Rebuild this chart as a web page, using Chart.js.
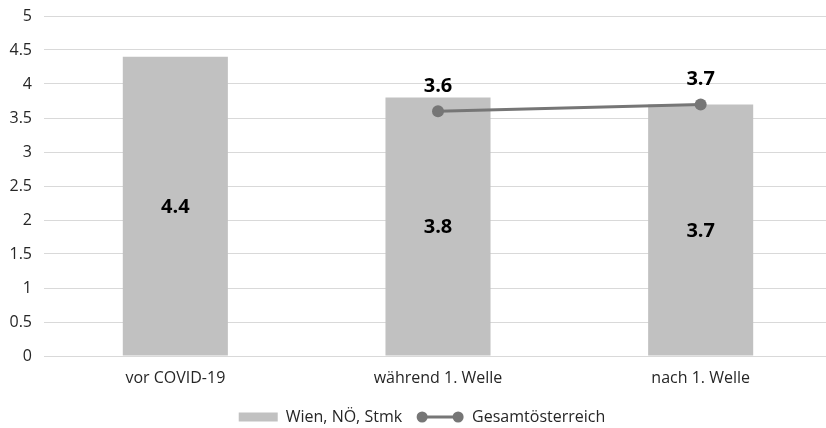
<!DOCTYPE html>
<html><head><meta charset="utf-8">
<script src="https://cdn.jsdelivr.net/npm/chart.js@4"></script>
<style>html,body{margin:0;padding:0;background:#fff;overflow:hidden}#wrap{width:826px;height:428px;overflow:hidden;position:relative}canvas{display:block}</style>
</head><body><div id="wrap"><canvas id="c" width="838" height="428"></canvas></div>
<script>
const categories = ['vor COVID-19', 'während 1. Welle', 'nach 1. Welle'];
const regionValues = [4.4, 3.8, 3.7];
const austriaValues = [null, 3.6, 3.7];
const seriesNames = ['Wien, NÖ, Stmk', 'Gesamtösterreich'];
const yTicks = [0, 0.5, 1, 1.5, 2, 2.5, 3, 3.5, 4, 4.5, 5];

const FONT = "'Open Sans', 'Liberation Sans', sans-serif";
const BAR = '#c1c1c1';
const LINE = '#767676';
const TXT = '#262626';
const VISIBLE_W = 826;

const labelsPlugin = {
  id: 'labels',
  afterDatasetsDraw(chart) {
    const ctx = chart.ctx;
    ctx.save();
    ctx.font = "bold 20px " + FONT;
    ctx.fillStyle = '#000';
    ctx.textAlign = 'center';
    ctx.textBaseline = 'middle';
    const bm = chart.getDatasetMeta(1);
    bm.data.forEach((el, i) => {
      const v = regionValues[i];
      ctx.fillText(v.toFixed(1), el.x, (el.y + el.base) / 2 + 1);
    });
    const lm = chart.getDatasetMeta(0);
    lm.data.forEach((el, i) => {
      const v = austriaValues[i];
      if (v == null) return;
      ctx.fillText(v.toFixed(1), el.x, el.y - 25);
    });
    ctx.restore();
  }
};

const legendPlugin = {
  id: 'customLegend',
  afterDraw(chart) {
    const ctx = chart.ctx;
    ctx.save();
    ctx.font = "16px " + FONT;
    ctx.textBaseline = 'middle';
    const y = 417;
    const boxW = 39, gap = 8, iconW = 48, between = 14;
    const w1 = ctx.measureText(seriesNames[0]).width;
    const w2 = ctx.measureText(seriesNames[1]).width;
    const total = boxW + gap + w1 + between + iconW + gap + w2;
    let x = (VISIBLE_W - total) / 2 + 9;
    ctx.fillStyle = BAR;
    ctx.fillRect(x, y - 4.5, boxW, 9);
    x += boxW + gap;
    ctx.fillStyle = TXT;
    ctx.fillText(seriesNames[0], x, y);
    x += w1 + between;
    ctx.strokeStyle = LINE; ctx.lineWidth = 3;
    ctx.beginPath(); ctx.moveTo(x + 6, y); ctx.lineTo(x + iconW - 6, y); ctx.stroke();
    ctx.fillStyle = LINE;
    [x + 6, x + iconW - 6].forEach(cx => { ctx.beginPath(); ctx.arc(cx, y, 5.5, 0, Math.PI * 2); ctx.fill(); });
    x += iconW + gap;
    ctx.fillStyle = TXT;
    ctx.fillText(seriesNames[1], x, y);
    ctx.restore();
  }
};

new Chart(document.getElementById('c'), {
  data: {
    labels: categories,
    datasets: [
      { type: 'line', label: seriesNames[1], data: austriaValues, borderColor: LINE, backgroundColor: LINE,
        borderWidth: 3, pointRadius: 6, pointHoverRadius: 6, pointBackgroundColor: LINE, pointBorderWidth: 0,
        spanGaps: false, order: 0 },
      { type: 'bar', label: seriesNames[0], data: regionValues, backgroundColor: BAR,
        categoryPercentage: 0.8, barPercentage: 0.5, order: 1 }
    ]
  },
  options: {
    responsive: false,
    animation: false,
    layout: { padding: { top: 16, right: 0, left: 0, bottom: 0 } },
    plugins: { legend: { display: false }, tooltip: { enabled: false } },
    scales: {
      x: {
        grid: { display: false, drawTicks: false },
        border: { display: false },
        ticks: { color: TXT, font: { family: FONT, size: 16 }, padding: 13 },
        afterFit(s) { s.height = 72; s.paddingLeft = 0; s.paddingRight = 0; }
      },
      y: {
        min: 0, max: 5,
        afterBuildTicks(s) { s.ticks = yTicks.map(v => ({ value: v })); },
        grid: { color: '#d9d9d9', lineWidth: 1, drawTicks: false },
        border: { display: false },
        ticks: { color: TXT, font: { family: FONT, size: 16 }, padding: 12, callback: v => String(v) },
        afterFit(s) { s.width = 44; s.paddingTop = 0; s.paddingBottom = 0; }
      }
    }
  },
  plugins: [labelsPlugin, legendPlugin]
});
</script>
</body></html>
